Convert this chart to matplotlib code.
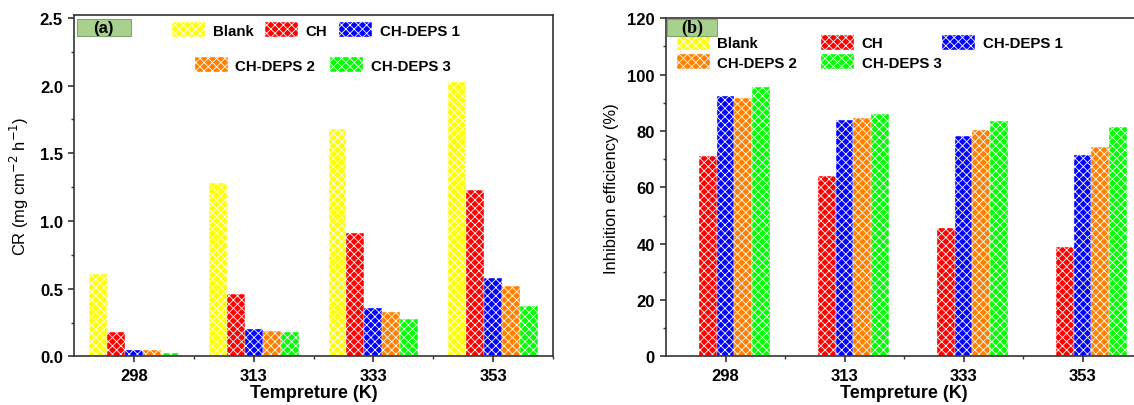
import numpy as np
import matplotlib
matplotlib.use("Agg")
import matplotlib.pyplot as plt
from matplotlib.patches import Patch, Rectangle

plt.rcParams['font.family'] = ['Liberation Sans', 'DejaVu Sans']
plt.rcParams['hatch.linewidth'] = 0.6

temps = ['298', '313', '333', '353']
series = ['Blank', 'CH', 'CH-DEPS 1', 'CH-DEPS 2', 'CH-DEPS 3']
colors = ['#ffff00', '#ff0000', '#0000ff', '#ff8000', '#00ff00']

# corrosion rate (mg cm-2 h-1)
cr_blank = [0.61, 1.28, 1.68, 2.03]
cr_ch = [0.18, 0.46, 0.91, 1.23]
cr_deps1 = [0.05, 0.20, 0.36, 0.58]
cr_deps2 = [0.05, 0.19, 0.33, 0.52]
cr_deps3 = [0.025, 0.18, 0.28, 0.37]

# inhibition efficiency (%), blank has none
ie_ch = [71.3, 63.9, 45.5, 38.8]
ie_deps1 = [92.3, 84.0, 78.4, 71.5]
ie_deps2 = [91.6, 84.7, 80.5, 74.3]
ie_deps3 = [95.7, 86.1, 83.4, 81.6]

x = np.arange(len(temps))
w = 0.15
offsets = [-2 * w, -w, 0, w, 2 * w]
HATCH = 'xxxx'

fig = plt.figure(figsize=(11.34, 4.06), dpi=100)
ax1 = fig.add_axes([0.0653, 0.1195, 0.4224, 0.842])
ax2 = fig.add_axes([0.5873, 0.1195, 0.4198, 0.833])


def hatched(label, c):
    return Patch(facecolor=c, edgecolor='white', hatch=HATCH, linewidth=0.3, label=label)


def style(ax):
    ax.set_xticks(x)
    ax.set_xticklabels(temps)
    ax.set_xticks(list(x[:-1] + 0.5) + [3.5], minor=True)
    ax.set_xlim(-0.5, 3.5)
    for s in ax.spines.values():
        s.set_linewidth(1.2)
        s.set_color('#333333')
    ax.tick_params(which='major', direction='out', length=4, width=1.2, labelsize=12,
                   colors='#333333', labelcolor='black', pad=4)
    ax.tick_params(which='minor', direction='out', length=2.5, width=1.0, colors='#333333')
    for t in ax.get_xticklabels() + ax.get_yticklabels():
        t.set_fontweight('bold')
    ax.set_xlabel('Tempreture (K)', fontsize=13, fontweight='bold', labelpad=1)


def panel_tag(ax, text, x0, x1, y0, y1, ty, **kw):
    ax.add_patch(Rectangle((x0, y0), x1 - x0, y1 - y0, transform=ax.transAxes,
                           facecolor='#a9d18e', edgecolor='#7fa86a', linewidth=0.8,
                           clip_on=False, zorder=5))
    ax.text((x0 + x1) / 2, ty, text, transform=ax.transAxes, fontweight='bold',
            ha='center', va='center', zorder=6, **kw)


leg_kw = dict(frameon=False, prop={'weight': 'bold', 'size': 10.8},
              handlelength=2.2, handleheight=1.1, handletextpad=0.5,
              borderpad=0, borderaxespad=0)

# (a) corrosion rate
cr = [cr_blank, cr_ch, cr_deps1, cr_deps2, cr_deps3]
for vals, off, c in zip(cr, offsets, colors):
    ax1.bar(x + off, vals, w, color=c, edgecolor='white', hatch=HATCH, linewidth=0.3)
ax1.set_ylim(0, 2.524)
ax1.set_yticks(np.arange(0, 2.51, 0.5))
ax1.set_yticks(np.arange(0.25, 2.5, 0.5), minor=True)
ax1.set_yticklabels(['%.1f' % v for v in np.arange(0, 2.51, 0.5)])
style(ax1)
ax1.set_ylabel('CR (mg cm$^{-2}$ h$^{-1}$)', fontsize=11.9, labelpad=6)

l1 = ax1.legend(handles=[hatched(s, c) for s, c in zip(series[:3], colors[:3])],
                ncol=3, loc='center', bbox_to_anchor=(0.505, 0.955), columnspacing=0.8, **leg_kw)
ax1.add_artist(l1)
ax1.legend(handles=[hatched(s, c) for s, c in zip(series[3:], colors[3:])],
           ncol=2, loc='center', bbox_to_anchor=(0.519, 0.853), columnspacing=1.0, **leg_kw)
panel_tag(ax1, '(a)', 0.0056, 0.118, 0.9386, 0.987, 0.962, fontsize=12)

# (b) inhibition efficiency
ie = [ie_ch, ie_deps1, ie_deps2, ie_deps3]
for vals, off, c in zip(ie, offsets[1:], colors[1:]):
    ax2.bar(x + off, vals, w, color=c, edgecolor='white', hatch=HATCH, linewidth=0.3)
ax2.set_ylim(0, 120)
ax2.set_yticks(np.arange(0, 121, 20))
ax2.set_yticks(np.arange(10, 120, 20), minor=True)
style(ax2)
ax2.set_ylabel('Inhibition efficiency (%)', fontsize=11.9, labelpad=6)

h = [hatched(s, c) for s, c in zip(series, colors)]
l2 = ax2.legend(handles=[h[0], h[3], h[1], h[4]], ncol=2, loc='upper left',
                bbox_to_anchor=(0.0225, 0.95), labelspacing=0.25, columnspacing=1.6, **leg_kw)
ax2.add_artist(l2)
ax2.legend(handles=[h[2]], loc='upper left', bbox_to_anchor=(0.58, 0.95), **leg_kw)
panel_tag(ax2, '(b)', 0.0015, 0.108, 0.9486, 0.998, 0.972, fontsize=13,
          family='Liberation Serif')

fig.savefig('out.png', dpi=100)
